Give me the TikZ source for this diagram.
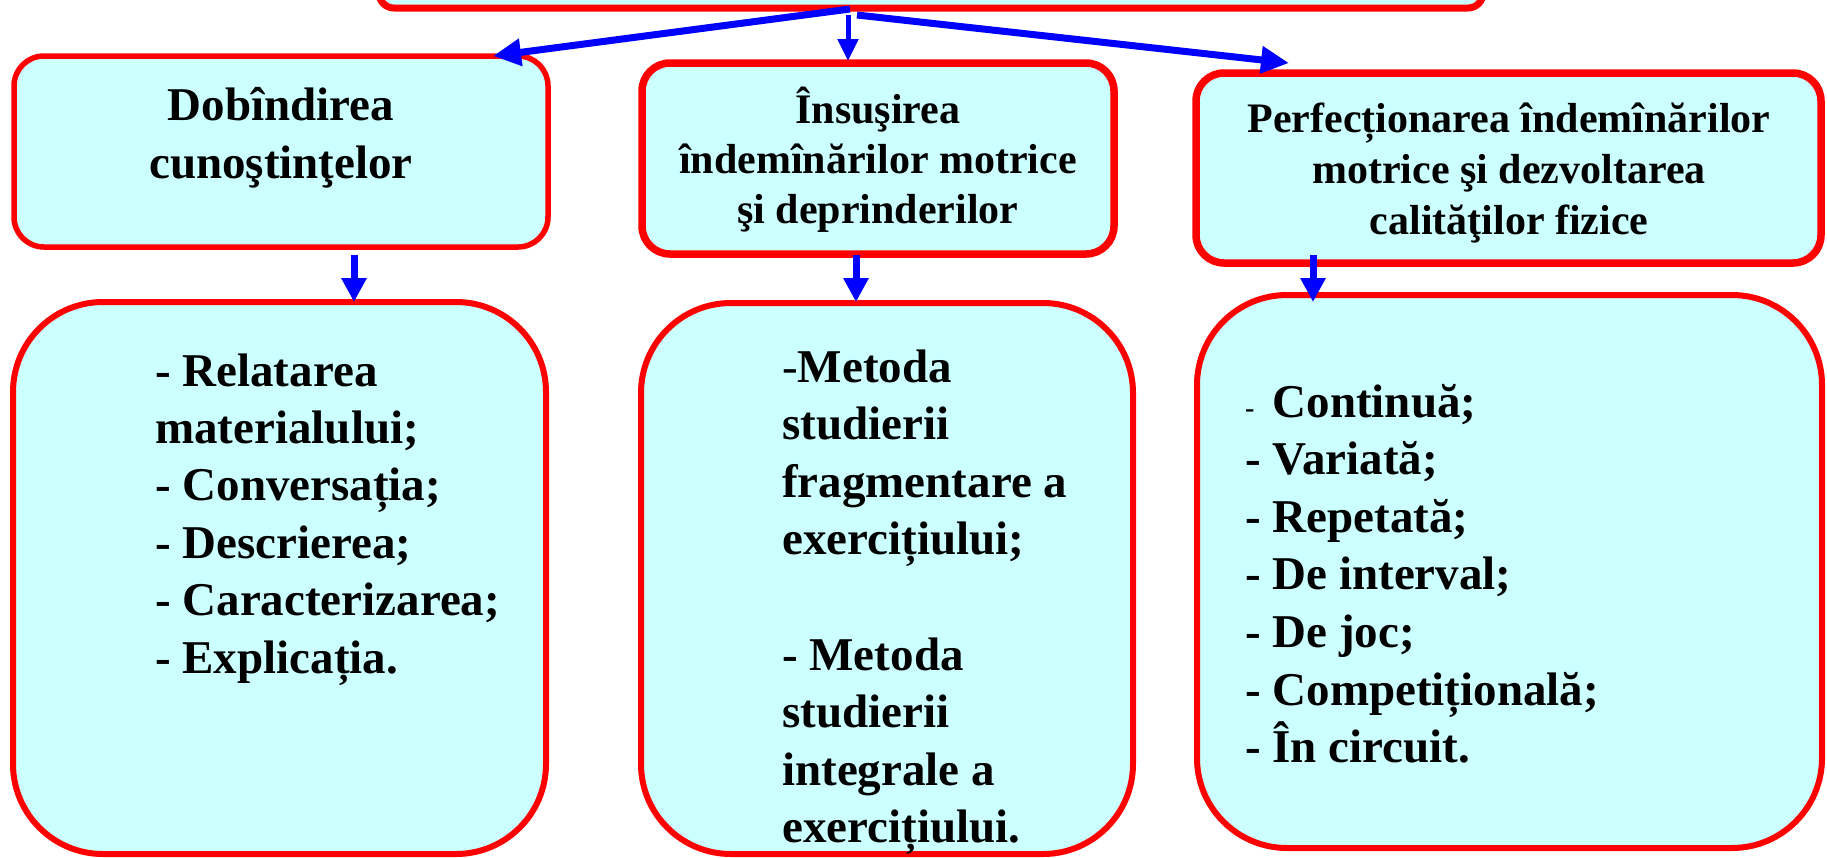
\documentclass[tikz,border=0pt]{standalone}
\usepackage{fontspec}
\setmainfont{Liberation Serif}
\usetikzlibrary{arrows.meta}
\definecolor{boxfill}{RGB}{204,255,255}
\definecolor{boxred}{RGB}{255,0,0}
\definecolor{arrblue}{RGB}{0,0,255}
\newcommand\cln[1]{\hbox to 0pt{\hss#1\hss}}
\newcommand\lln[1]{\hbox{#1}}
\begin{document}
\begin{tikzpicture}[x=1pt,y=-1pt,
  box/.style={draw=boxred,fill=boxfill,inner sep=0pt,outer sep=0pt,line width=6pt},
  arr/.style={draw=arrblue,line width=7pt,-{Triangle[length=24pt,width=24pt]}},
  arrthin/.style={draw=arrblue,line width=5pt,-{Triangle[length=22pt,width=20pt]}},
  arrdiag/.style={draw=arrblue,line width=7pt,-{Triangle[length=28pt,width=26pt]}},
  txtbig/.style={inner sep=0pt,font=\bfseries\fontsize{47}{57}\selectfont},
  txtmid/.style={inner sep=0pt,font=\bfseries\fontsize{42}{50}\selectfont}
]
\useasboundingbox (0,0) rectangle (1827,857);
% boxes
\node[box,line width=7pt,rounded corners=15pt,minimum width=1104pt,minimum height=48pt] (top) at (931,-16) {};
\node[box,line width=5.5pt,rounded corners=30pt,minimum width=534pt,minimum height=191pt] (b1) at (281,151.5) {};
\node[box,line width=7.5pt,rounded corners=28pt,minimum width=472pt,minimum height=191pt] (b2) at (878,158.5) {};
\node[box,line width=7.5pt,rounded corners=28pt,minimum width=625pt,minimum height=190pt] (b3) at (1508.5,168) {};
\node[box,rounded corners=90pt,minimum width=533pt,minimum height=552pt] (B1) at (279.5,578) {};
\node[box,rounded corners=90pt,minimum width=492pt,minimum height=551pt] (B2) at (887,578.5) {};
\node[box,rounded corners=90pt,minimum width=625pt,minimum height=553pt] (B3) at (1509.5,571.5) {};
% arrows
\draw[arrdiag] ([xshift=-81pt,yshift=-1pt]top.south) -- ([xshift=-55pt]b1.north east);
\draw[arrthin] ([xshift=-83pt,yshift=-7pt]top.south) -- ([xshift=-30pt,yshift=2pt]b2.north);
\draw[arrdiag] ([xshift=-74pt,yshift=-7pt]top.south) -- ([xshift=-219.5pt,yshift=10pt]b3.north);
\draw[arr] ([xshift=73pt,yshift=-8pt]b1.south) -- ([xshift=74.5pt]B1.north);
\draw[arr] ([xshift=-22pt,yshift=-1pt]b2.south) -- ([xshift=-31pt,yshift=1pt]B2.north);
\draw[arr] ([xshift=-195.5pt,yshift=8pt]b3.south) -- ([xshift=-196.5pt,yshift=-7pt]B3.north);
% texts
\node[txtbig,anchor=base] (t1) at (281,120) {\vtop{\baselineskip=58pt\cln{Dobîndirea}\cln{cunoştinţelor}}};
\node[txtmid,anchor=base] (t2) at (878,123) {\vtop{\baselineskip=50pt\cln{Însuşirea}\cln{îndemînărilor motrice}\cln{şi deprinderilor}}};
\node[txtmid,anchor=base] (t3) at (1509,132) {\vtop{\baselineskip=51pt\cln{Perfecționarea îndemînărilor}\cln{motrice şi dezvoltarea}\cln{calităţilor fizice}}};
\node[txtbig,anchor=base west] (T1) at (155,386) {\vtop{\baselineskip=57.4pt\lln{- Relatarea}\lln{materialului;}\lln{- Conversația;}\lln{- Descrierea;}\lln{- Caracterizarea;}\lln{- Explicația.}}};
\node[txtbig,anchor=base west] (T2) at (782,382) {\vtop{\baselineskip=57.6pt\lln{{\mdseries -}Metoda}\lln{studierii}\lln{fragmentare a}\lln{exercițiului;}\lln{}\lln{- Metoda}\lln{studierii}\lln{integrale a}\lln{exercițiului.}}};
\node[txtbig,anchor=base west] (T3) at (1245,417) {\vtop{\baselineskip=57.6pt\lln{\makebox[27.4pt][l]{\fontsize{28}{28}\selectfont -}Continuă;}\lln{- Variată;}\lln{- Repetată;}\lln{- De interval;}\lln{- De joc;}\lln{- Competițională;}\lln{- În circuit.}}};
\end{tikzpicture}
\end{document}
